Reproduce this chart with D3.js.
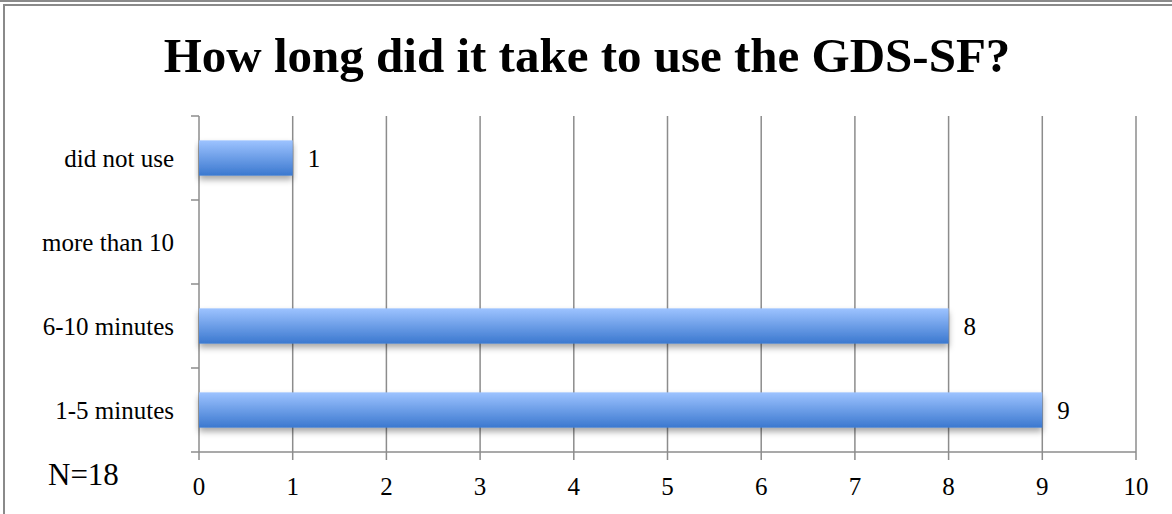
<!DOCTYPE html>
<html>
<head>
<meta charset="utf-8">
<script src="https://cdn.jsdelivr.net/npm/d3@7"></script>
<style>
  body { margin: 0; background: #fff; }
  svg { display: block; font-family: "Liberation Serif", "DejaVu Serif", serif; }
</style>
</head>
<body>
<svg id="chart" width="1172" height="514"></svg>
<script>
    // Chart data
    const categories = ["1-5 minutes", "6-10 minutes", "more than 10", "did not use"];
    const counts = [9, 8, null, 1];
    const xTicks = [0, 1, 2, 3, 4, 5, 6, 7, 8, 9, 10];
    const title = "How long did it take to use the GDS-SF?";
    const note = "N=18";

    const width = 1172;
    const height = 514;
    const margin = { top: 116, right: 36, bottom: 62, left: 199 };

    const svg = d3.select("#chart");

    // Frame
    svg.append("line")
        .attr("x1", 0).attr("x2", width)
        .attr("y1", 1).attr("y2", 1)
        .attr("stroke", "#8a8a8a").attr("stroke-width", 2);
    svg.append("rect")
        .attr("x", 4).attr("y", 5)
        .attr("width", width).attr("height", height)
        .attr("fill", "none")
        .attr("stroke", "#8a8a8a").attr("stroke-width", 2);

    // Gradient and shadow for bars
    const defs = svg.append("defs");
    const grad = defs.append("linearGradient")
        .attr("id", "barGrad")
        .attr("x1", 0).attr("y1", 0).attr("x2", 0).attr("y2", 1);
    grad.append("stop").attr("offset", "0%").attr("stop-color", "#9dc3ff");
    grad.append("stop").attr("offset", "100%").attr("stop-color", "#3b78cf");

    const shadow = defs.append("filter")
        .attr("id", "shadow")
        .attr("x", "-5%").attr("y", "-20%").attr("width", "110%").attr("height", "160%");
    shadow.append("feDropShadow")
        .attr("dx", 0).attr("dy", 4)
        .attr("stdDeviation", 3)
        .attr("flood-color", "#000")
        .attr("flood-opacity", 0.35);

    // Scales
    const x = d3.scaleLinear()
        .domain([0, 10])
        .range([margin.left, width - margin.right]);

    const y = d3.scaleBand()
        .domain(categories)
        .range([height - margin.bottom, margin.top])
        .paddingInner(0.58)
        .paddingOuter(0.29);

    const yOuter = d3.scaleBand()
        .domain(categories)
        .range([height - margin.bottom, margin.top]);

    // Vertical gridlines
    svg.append("g")
        .selectAll("line")
        .data(xTicks)
        .join("line")
        .attr("x1", d => x(d)).attr("x2", d => x(d))
        .attr("y1", margin.top).attr("y2", height - margin.bottom + 8)
        .attr("stroke", "#8c8c8c")
        .attr("stroke-width", 1.5);

    // Bottom axis line
    svg.append("line")
        .attr("x1", x(0)).attr("x2", x(10))
        .attr("y1", height - margin.bottom).attr("y2", height - margin.bottom)
        .attr("stroke", "#8c8c8c").attr("stroke-width", 1.5);

    // Left axis ticks between categories
    const bounds = categories.map(c => yOuter(c)).concat([height - margin.bottom]);
    svg.append("g")
        .selectAll("line")
        .data(bounds)
        .join("line")
        .attr("x1", x(0) - 8).attr("x2", x(0))
        .attr("y1", d => d).attr("y2", d => d)
        .attr("stroke", "#8c8c8c").attr("stroke-width", 1.5);

    // X tick labels
    svg.append("g")
        .selectAll("text")
        .data(xTicks)
        .join("text")
        .attr("x", d => x(d))
        .attr("y", 495)
        .attr("text-anchor", "middle")
        .attr("font-size", 25)
        .attr("fill", "#000")
        .text(d => d);

    // Category labels
    svg.append("g")
        .selectAll("text")
        .data(categories)
        .join("text")
        .attr("x", 174)
        .attr("y", d => yOuter(d) + yOuter.bandwidth() / 2 + 9)
        .attr("text-anchor", "end")
        .attr("font-size", 25)
        .attr("fill", "#000")
        .text(d => d);

    // Bars
    const barData = categories.map((c, i) => ({ cat: c, value: counts[i] }))
        .filter(d => d.value != null);

    svg.append("g")
        .selectAll("rect")
        .data(barData)
        .join("rect")
        .attr("x", x(0))
        .attr("y", d => y(d.cat))
        .attr("width", d => x(d.value) - x(0))
        .attr("height", y.bandwidth())
        .attr("fill", "url(#barGrad)")
        .attr("filter", "url(#shadow)");

    // Value labels
    svg.append("g")
        .selectAll("text")
        .data(barData)
        .join("text")
        .attr("x", d => x(d.value) + 15)
        .attr("y", d => y(d.cat) + y.bandwidth() / 2 + 9)
        .attr("font-size", 25)
        .attr("fill", "#000")
        .text(d => d.value);

    // Title
    svg.append("text")
        .attr("x", 587)
        .attr("y", 72)
        .attr("text-anchor", "middle")
        .attr("font-size", 49)
        .attr("font-weight", "bold")
        .attr("fill", "#000")
        .text(title);

    // Sample size note
    svg.append("text")
        .attr("x", 48)
        .attr("y", 485)
        .attr("font-size", 31)
        .attr("fill", "#000")
        .text(note);
</script>
</body>
</html>
